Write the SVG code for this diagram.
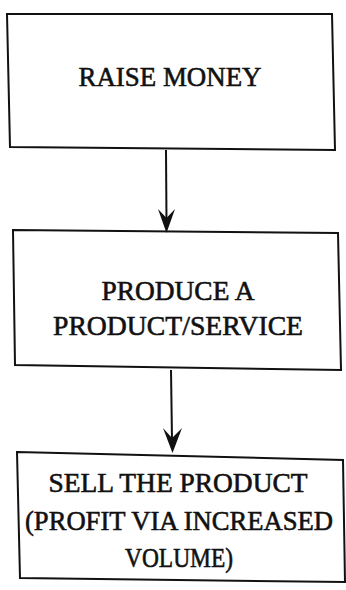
<svg xmlns="http://www.w3.org/2000/svg" width="346" height="590" viewBox="0 0 346 590">
<style>
.box{fill:#fff;stroke:#111;stroke-width:2;stroke-linejoin:miter}
.t{font-family:"Liberation Serif","Times New Roman",serif;font-size:27.5px;fill:#111;stroke:#111;stroke-width:0.6;text-anchor:middle}
.c{stroke:#111;stroke-width:2;fill:none}
.ah{fill:#111;stroke:none}
</style>
<rect width="346" height="590" fill="#fff"/>
<g id="raise-money">
<polygon class="box" points="7,14 332,14 335,150 10,147"/>
<text class="t" x="170" y="86" textLength="183" lengthAdjust="spacingAndGlyphs">RAISE MONEY</text>
</g>
<g id="produce">
<polygon class="box" points="13,230 338,233 341,370 15,365"/>
<text class="t" x="178" y="300" textLength="153" lengthAdjust="spacingAndGlyphs">PRODUCE A</text>
<text class="t" x="178" y="335" textLength="250" lengthAdjust="spacingAndGlyphs">PRODUCT/SERVICE</text>
</g>
<g id="sell">
<polygon class="box" points="17,452 343,460 345,582 20,578"/>
<text class="t" x="178" y="492" textLength="259" lengthAdjust="spacingAndGlyphs">SELL THE PRODUCT</text>
<text class="t" x="179" y="530" textLength="308" lengthAdjust="spacingAndGlyphs">(PROFIT VIA INCREASED</text>
<text class="t" x="179" y="567" textLength="108" lengthAdjust="spacingAndGlyphs">VOLUME)</text>
</g>
<g id="connectors">
<line class="c" x1="166" y1="150" x2="166.5" y2="222"/>
<polygon class="ah" points="158,209 166.5,218 175,209 166.5,233"/>
<line class="c" x1="171" y1="370" x2="172" y2="440"/>
<polygon class="ah" points="163,428 172,438 182,428 172.5,453"/>
</g>
</svg>
